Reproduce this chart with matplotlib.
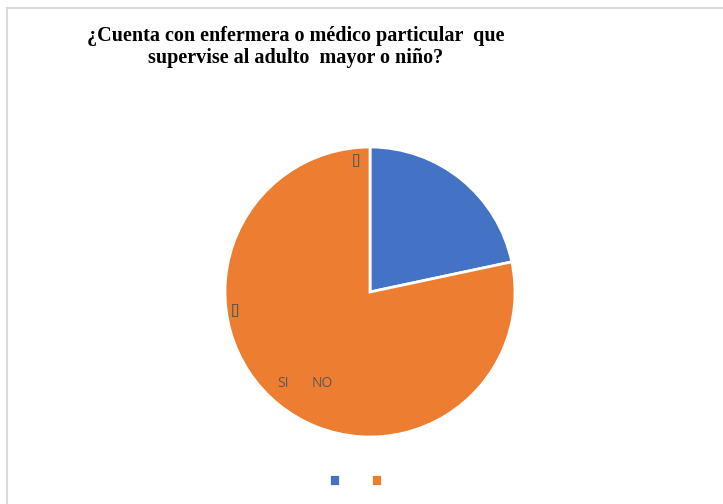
import matplotlib.pyplot as plt
from matplotlib.patches import Rectangle

# data (respuestas SI / NO)
categories = ['SI', 'NO']
counts = [13, 47]
colors = ['#4472C4', '#ED7D31']
data_labels = ['[]', '[]']

title = u'\u00bfCuenta con enfermera o m\u00e9dico particular  que\nsupervise al adulto  mayor o ni\u00f1o?'

W, H = 723, 504
fig = plt.figure(figsize=(W / 100, H / 100), dpi=100)

# light grey chart-area border (only top and left visible)
fig.patches.append(Rectangle((7 / W, -0.1), 1.2, 1 - 8 / H + 0.1, transform=fig.transFigure,
                             fill=False, edgecolor='#d9d9d9', linewidth=1.5))

fig.text(296 / W, 1 - 47 / H, title, ha='center', va='center', family='Liberation Serif',
         fontweight='bold', fontsize=14.5, linespacing=1.2, color='#000000')

cx, cy, r = 370, 292, 145
ax = fig.add_axes([(cx - r) / W, (H - cy - r) / H, 2 * r / W, 2 * r / H])
wedges, _ = ax.pie(counts, colors=colors, startangle=90, counterclock=False,
                   wedgeprops=dict(edgecolor='white', linewidth=2))
ax.set_xlim(-1, 1)
ax.set_ylim(-1, 1)
ax.axis('off')

lab = dict(color='#595959', fontsize=10, family='Open Sans', ha='center', va='center')
ax.text(-0.09, 0.91, data_labels[0], **lab)
ax.text(-0.93, -0.13, data_labels[1], **lab)
ax.text(-0.60, -0.63, categories[0], **lab)
ax.text(-0.33, -0.63, categories[1], **lab)

fig.legend(wedges, ['', ''], ncol=2, loc='center', bbox_to_anchor=(358 / W, 1 - 482 / H),
           frameon=False, handlelength=0.5, handleheight=0.5, columnspacing=1.2,
           handletextpad=0.2, fontsize=16)

fig.savefig('out.png', dpi=100)
